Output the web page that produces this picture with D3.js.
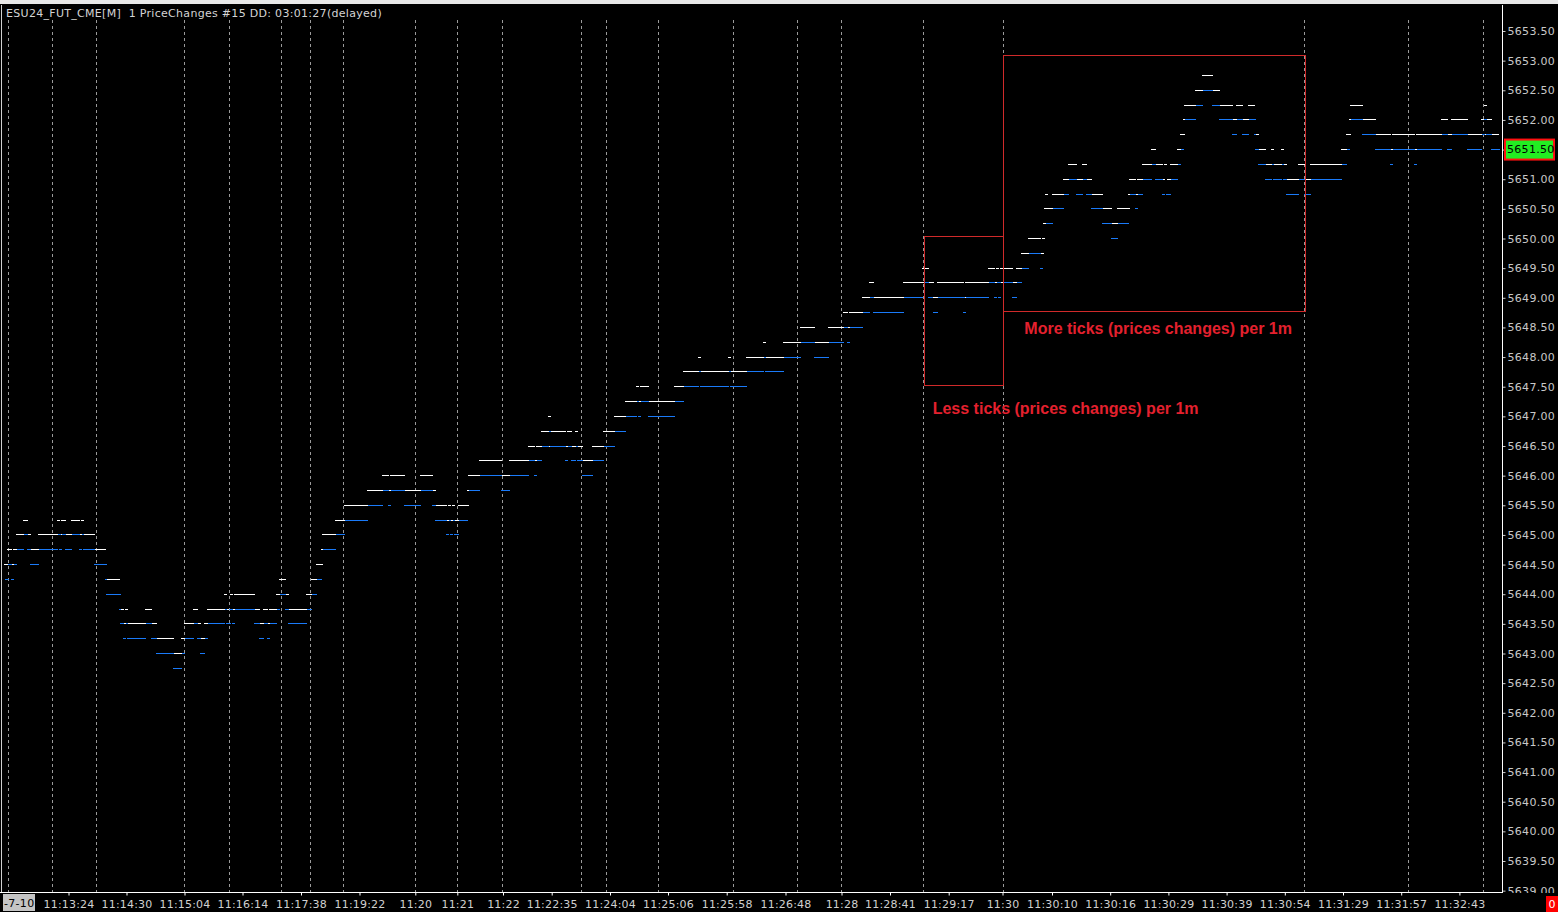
<!DOCTYPE html>
<html><head><meta charset="utf-8">
<script src="https://cdn.jsdelivr.net/npm/d3@7"></script>
<style>
html,body{margin:0;padding:0;background:#000;overflow:hidden}
svg{display:block}
</style></head><body>
<svg id="c" width="1558" height="912"></svg>
<script>
const headerText = "ESU24_FUT_CME[M]  1 PriceChanges #15 DD: 03:01:27(delayed)";
const dateLabel = "-7-10";
const priceTicks = [5653.5,5653,5652.5,5652,5651.5,5651,5650.5,5650,5649.5,5649,5648.5,5648,5647.5,5647,5646.5,5646,5645.5,5645,5644.5,5644,5643.5,5643,5642.5,5642,5641.5,5641,5640.5,5640,5639.5,5639];
const timeTickBars = [34.25,63.25,92.25,121.25,150.5,179.75,207.65,228.65,251.5,275.85,305,334,363.35,392.75,420.75,445,474.35,501.25,526,555.1,584.2,613.3,642.4,671.5,700.6,729.7];
const timeTickLabels = ["11:13:24","11:14:30","11:15:04","11:16:14","11:17:38","11:19:22","11:20","11:21","11:22","11:22:35","11:24:04","11:25:06","11:25:58","11:26:48","11:28","11:28:41","11:29:17","11:30","11:30:10","11:30:16","11:30:29","11:30:39","11:30:54","11:31:29","11:31:57","11:32:43"];
const minuteLabels = ["11:12","11:13","11:14","11:15","11:16","11:17","11:18","11:19","11:20","11:21","11:22","11:23","11:24","11:25","11:26","11:27","11:28","11:29","11:30","11:31","11:32","11:33"];
const minuteBars = [3.9,26.15,47.75,91.75,114.65,140.65,155.15,171.65,207.65,228.65,251.25,290.25,302.75,329.15,366.65,398.65,420.75,461.65,501.25,652.15,704.15,741.65];
const lastPrice = 5651.5;

// price-change runs per level: [price, [startBar,endBar, startBar,endBar, ...]]
const whiteRuns = [
[5652.75,[601,606.5]],
[5652.5,[597.5,601.5, 606.5,610]],
[5652.25,[592,598, 610,616.5, 618,621.5, 624,627.5, 675,681.5, 742,743.5]],
[5652,[591.5,592.5, 616.5,618.5, 621.5,624.5, 674.5,675.5, 681.5,688, 720.5,724, 725.5,734, 740.5,742, 743.5,746]],
[5651.75,[590,592.5, 628,629.5, 673,675.5, 688,695.5, 696,707.5, 708,721, 724,726, 734,741, 742.5,743, 746,749.5]],
[5651.5,[575.5,578, 588.5,590.5, 629.5,633, 635.5,637, 640.5,642, 670.5,673.5, 695.5,696.5, 707.5,708.5]],
[5651.25,[534,538.5, 541,543.5, 571,576, 578,581.5, 582,583.5, 585,589, 633,636, 637,641, 642,643.5, 649,652.5, 655,671]],
[5651,[531.5,534.5, 538.5,541.5, 543.5,546, 564.5,568, 568.5,571.5, 581.5,582.5, 583.5,585.5, 643.5,649.5, 652.5,655.5]],
[5650.75,[522.5,524, 526,532, 546,551.5, 564,565, 568,569]],
[5650.5,[522,526.5, 551.5,556, 558.5,565]],
[5650.25,[521.5,523, 556,559]],
[5650,[514,520.5, 521,522.5]],
[5649.75,[510.5,514.5, 520.5,522]],
[5649.5,[461,464.5, 494,497.5, 498,499.5, 500,506.5, 508,511]],
[5649.25,[434.5,437, 451.5,462, 464.5,467, 468.5,482, 482.5,494.5, 497.5,498.5, 500.5,501.5, 506.5,508.5]],
[5649,[431,435, 437,452, 466.5,469, 482.5,483]],
[5648.75,[421.5,424, 424.5,431.5]],
[5648.5,[400,407.5, 414,422, 424,425]],
[5648.25,[381.5,383, 391.5,400.5, 407.5,414.5]],
[5648,[349,350.5, 364,365.5, 373,382, 383,392]],
[5647.75,[341.5,349.5, 350.5,364.5, 365.5,373.5]],
[5647.5,[318,319.5, 320,324.5, 337,342]],
[5647.25,[312.5,318.5, 319.5,320.5, 324.5,337.5]],
[5647,[274,275.5, 307,313]],
[5646.75,[270.5,274.5, 275.5,283, 283.5,286, 287.5,289, 301.5,307.5]],
[5646.5,[264,267.5, 268,271, 274.5,275, 283,284, 286,288, 289,291.5, 296,302]],
[5646.25,[239.5,251, 254.5,264.5, 267.5,268.5, 291.5,296.5]],
[5646,[191,194.5, 195,202.5, 210,216.5, 234,240, 251,255]],
[5645.75,[183.5,191.5, 194.5,195.5, 202.5,210.5, 216.5,218, 233.5,234.5]],
[5645.5,[172,184, 218,223.5, 224,225.5, 226,227.5, 229,234.5]],
[5645.25,[11.5,14, 28.5,30, 30.5,33, 35.5,40, 40.5,42, 167.5,172.5, 223.5,224.5, 225.5,226.5, 227.5,229.5]],
[5645,[8,12, 14,15.5, 19,29, 30.5,31, 33,36, 40,41, 42,47.5, 161,168]],
[5644.75,[3.5,6, 6.5,8.5, 15.5,19.5, 47.5,53, 160.5,161.5]],
[5644.5,[2,4, 6,7, 158,161.5]],
[5644.25,[53.5,60, 139.5,143, 155.5,158.5]],
[5644,[112,113.5, 115,116.5, 117,127.5, 138,140, 143,144.5, 153,156]],
[5643.75,[60.5,62, 62.5,64, 72.5,76, 96.5,99, 103.5,112.5, 113.5,114.5, 116.5,117.5, 127.5,130, 131.5,134, 134.5,138.5, 144.5,153.5]],
[5643.5,[62,63, 64,73, 76,78.5, 92,97, 99,100.5, 102,104, 130,132, 134,135]],
[5643.25,[78.5,87, 90.5,92.5, 100.5,102.5]],
[5643,[87,91]]
];
const blueRuns = [
[5652.5,[601.5,606.5]],
[5652.25,[598,601.5, 606,610]],
[5652,[592.5,598, 609.5,616.5, 618.5,621.5, 624.5,628, 675.5,681.5, 742,743.5]],
[5651.75,[616,618.5, 621,624.5, 627,628, 681,688, 721,724, 726,734, 741,742.5, 743,746]],
[5651.5,[590.5,592, 627.5,629.5, 673.5,675, 687.5,695.5, 696.5,707.5, 708.5,721, 723.5,726, 733.5,741, 745.5,750]],
[5651.25,[576,578, 589,590.5, 629,633, 636,637, 641,642, 671,673.5, 695,696.5, 707,708.5]],
[5651,[534.5,538.5, 541.5,543.5, 571.5,576, 577.5,581.5, 585.5,589, 632.5,636, 636.5,641, 641.5,643.5, 649.5,652.5, 655.5,671]],
[5650.75,[532,534.5, 538,541.5, 543,546, 565,568, 569,571.5, 581,582.5, 583,585.5, 643,649.5, 652,655.5]],
[5650.5,[526.5,532, 545.5,551.5, 567.5,569]],
[5650.25,[523,526.5, 551,556, 559,564.5]],
[5650,[555.5,559]],
[5649.75,[514.5,520.5]],
[5649.5,[511,514.5, 520,521.5]],
[5649.25,[462,464.5, 494.5,497.5, 498.5,500.5, 501.5,506.5, 508.5,511]],
[5649,[435,437, 452,461.5, 464,466.5, 469,482.5, 483,494.5, 497,498.5, 499,500.5, 506,508.5]],
[5648.75,[431.5,435, 436.5,452, 466.5,469, 481.5,483]],
[5648.5,[422,424, 425,431.5]],
[5648.25,[400.5,407.5, 414.5,422, 423.5,425]],
[5648,[382,383, 392,400.5, 407,414.5]],
[5647.75,[349.5,350.5, 364.5,365.5, 373.5,382, 382.5,392]],
[5647.5,[342,349.5, 350,364.5, 365,373.5]],
[5647.25,[318.5,319.5, 320.5,324.5, 337.5,342]],
[5647,[313,318.5, 319,320.5, 324,337.5]],
[5646.75,[274.5,275.5, 307.5,313]],
[5646.5,[271,274.5, 275,283, 284,286, 288,289, 302,307.5]],
[5646.25,[264.5,267.5, 268.5,271, 282.5,284, 285.5,288, 288.5,291.5, 296.5,302]],
[5646,[240,251, 255,264.5, 267,268.5, 291,296.5]],
[5645.75,[191.5,194.5, 195.5,202.5, 210.5,216.5, 234.5,240, 250.5,255]],
[5645.5,[184,191.5, 194,195.5, 202,210.5, 216,218]],
[5645.25,[172.5,184, 217.5,223.5, 224.5,225.5, 226.5,227.5, 229.5,234]],
[5645,[12,14, 29,30.5, 31,33, 36,40, 41,42, 168,172.5, 223,224.5, 225,226.5, 227,229.5]],
[5644.75,[8.5,12, 13.5,15.5, 19.5,29, 29.5,31, 32.5,36, 39.5,41, 41.5,47.5, 161.5,168]],
[5644.5,[4,6, 7,8.5, 15,19.5, 47,53.5]],
[5644.25,[2.5,4.5, 5.5,7, 52.5,53.5, 158.5,161]],
[5644,[53,60.5, 140,143, 156,158.5]],
[5643.75,[59.5,60.5, 112.5,113.5, 114.5,116.5, 117.5,127.5, 138.5,140, 142.5,144.5, 153.5,156]],
[5643.5,[60,62, 63,64, 73,76, 97,99, 104,112.5, 113,115.5, 116,117.5, 127,130, 132,134, 135,138.5, 144,153.5]],
[5643.25,[61.5,63, 63.5,73, 75.5,78.5, 92.5,97, 98.5,100.5, 102.5,104, 129.5,132, 133.5,135]],
[5643,[78,87, 91,92.5, 100,102.5]],
[5642.75,[86.5,91]]
];
const annotationBoxes = [
  {bar0:462.15, bar1:501.65, hi:5650.05, lo:5647.53},
  {bar0:501.5, bar1:652.5, hi:5653.09, lo:5648.78}
];
const annotationTexts = [
  {text:"More ticks (prices changes) per 1m", bar:512.15, price:5648.39},
  {text:"Less ticks (prices changes) per 1m", bar:466.35, price:5647.04}
];

const FONT = "'DejaVu Sans',sans-serif";
const svg = d3.select("#c");
const plotTop = 5, plotBottom = 892, axisX = 1502;
const x = d3.scaleLinear().domain([0, 751]).range([0, 1502]);
const y = d3.scaleLinear().domain([5653.5, 5639.5]).range([31, 861]);

svg.append("rect").attr("width",1558).attr("height",912).attr("fill","#000");
svg.append("rect").attr("x",0).attr("y",0).attr("width",1558).attr("height",4).attr("fill","#e8e8e8");

// minute gridlines
svg.append("g").selectAll("line").data(minuteBars).join("line")
  .attr("x1",d=>Math.round(x(d))+0.5).attr("x2",d=>Math.round(x(d))+0.5)
  .attr("y1",20).attr("y2",plotBottom)
  .attr("stroke","#9a9a9a").attr("stroke-width",1).attr("stroke-dasharray","3,3");

// header
svg.append("text").attr("x",6).attr("y",17).attr("fill","#d4d4d4")
  .style("font-family",FONT).style("font-size","11px").style("letter-spacing","0.3px")
  .style("white-space","pre").text(headerText);

// runs
function flatten(runs){
  const out=[];
  runs.forEach(([p,arr])=>{for(let i=0;i<arr.length;i+=2) out.push({p, s:arr[i], e:arr[i+1]});});
  return out;
}
const gBars = svg.append("g");
gBars.selectAll("rect.b").data(flatten(blueRuns)).join("rect").attr("class","b")
  .attr("x",d=>x(d.s)).attr("width",d=>x(d.e)-x(d.s))
  .attr("y",d=>Math.floor(y(d.p))).attr("height",1).attr("fill","#1a7af8");
gBars.selectAll("rect.w").data(flatten(whiteRuns)).join("rect").attr("class","w")
  .attr("x",d=>x(d.s)).attr("width",d=>x(d.e)-x(d.s))
  .attr("y",d=>Math.floor(y(d.p))).attr("height",1).attr("fill","#ffffff");

// annotations
svg.append("g").selectAll("rect").data(annotationBoxes).join("rect")
  .attr("x",d=>Math.round(x(d.bar0))+0.5).attr("y",d=>Math.round(y(d.hi))+0.5)
  .attr("width",d=>Math.round(x(d.bar1))-Math.round(x(d.bar0)))
  .attr("height",d=>Math.round(y(d.lo))-Math.round(y(d.hi)))
  .attr("fill","none").attr("stroke","#d02a2a").attr("stroke-width",1);
svg.append("g").selectAll("text").data(annotationTexts).join("text")
  .attr("x",d=>x(d.bar)).attr("y",d=>y(d.price))
  .attr("fill","#e4202e")
  .style("font-family","'Liberation Sans',Arial,sans-serif")
  .style("font-weight","bold").style("font-size","16px").text(d=>d.text);

// left frame line
svg.append("line").attr("x1",1.5).attr("x2",1.5).attr("y1",plotTop).attr("y2",plotBottom)
  .attr("stroke","#d0d0d0");

// price axis
svg.append("defs").append("clipPath").attr("id","pclip").append("rect")
  .attr("x",axisX-2).attr("y",plotTop).attr("width",60).attr("height",plotBottom-plotTop+1);
const yAxis = d3.axisRight(y).tickValues(priceTicks).tickSize(3).tickPadding(2)
  .tickFormat(d=>d.toFixed(2));
const gyWrap = svg.append("g").attr("clip-path","url(#pclip)");
const gy = gyWrap.append("g").attr("transform",`translate(${axisX+0.5},0)`).call(yAxis);
gy.select(".domain").remove();
gy.selectAll(".tick line").attr("stroke","#c8c8c8");
gy.selectAll(".tick text").attr("fill","#c8c8c8")
  .style("font-family",FONT).style("font-size","11px").style("letter-spacing","0.3px");
svg.append("line").attr("x1",axisX+0.5).attr("x2",axisX+0.5).attr("y1",plotTop).attr("y2",plotBottom+1)
  .attr("stroke","#ffffff");

// last price marker
const lp = svg.append("g").attr("transform",`translate(1505,${y(lastPrice)})`);
lp.append("rect").attr("x",0).attr("y",-10).attr("width",49).attr("height",20)
  .attr("fill","#22ee22").attr("stroke","#ff1010").attr("stroke-width",2);
lp.append("text").attr("x",2).attr("y",0).attr("dy","0.35em").attr("fill","#000")
  .style("font-family",FONT).style("font-size","11px").style("letter-spacing","0.3px")
  .text(lastPrice.toFixed(2));

// time axis
const xAxis = d3.axisBottom(x).tickValues(timeTickBars).tickSize(3).tickPadding(5)
  .tickFormat((d,i)=>timeTickLabels[i]);
const gx = svg.append("g").attr("transform",`translate(0,${plotBottom+0.5})`).call(xAxis);
gx.select(".domain").attr("stroke","#ffffff").attr("d","M0,0H"+(axisX+1));
gx.selectAll(".tick line").attr("stroke","#ffffff");
gx.selectAll(".tick text").attr("fill","#d0d0d0")
  .style("font-family",FONT).style("font-size","11px").style("letter-spacing","0.2px");

// date label
svg.append("rect").attr("x",3).attr("y",894).attr("width",32).attr("height",17).attr("fill","#c4c4c4");
svg.append("text").attr("x",4).attr("y",907).attr("fill","#000")
  .style("font-family",FONT).style("font-size","11px").style("letter-spacing","0.3px").text(dateLabel);

// bottom-right counter
svg.append("rect").attr("x",1546).attr("y",896).attr("width",12).attr("height",16).attr("fill","#ff0000");
svg.append("text").attr("x",1552).attr("y",908).attr("text-anchor","middle").attr("fill","#ffffff")
  .style("font-family",FONT).style("font-size","11px").text("0");
</script></body></html>
